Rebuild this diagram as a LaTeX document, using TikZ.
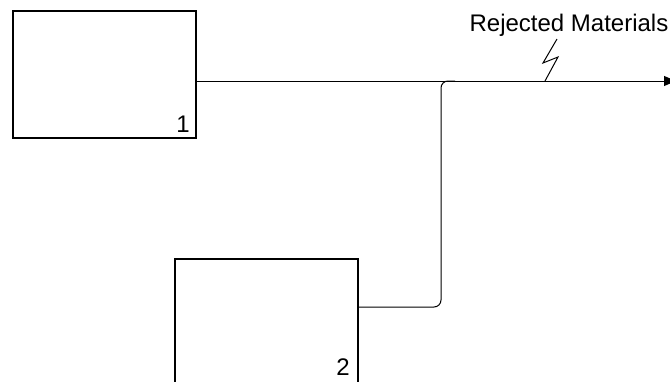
\documentclass[tikz,border=0pt]{standalone}
\usepackage{fontspec}
\setmainfont{Liberation Sans}
\usetikzlibrary{arrows.meta}
\tikzset{
    procbox/.style={draw, line width=2pt, minimum width=183pt, minimum height=127pt, anchor=north west, inner sep=0pt},
    numtag/.style={anchor=south east, inner xsep=7pt, inner ysep=6pt, font=\fontsize{24}{28}\selectfont},
    flow/.style={line width=1pt},
}
\begin{document}
\begin{tikzpicture}[x=1pt,y=-1pt]
    \clip (0,0) rectangle (670,381);
    \node[procbox] (box1) at (12,10) {};
    \node[numtag] (tag1) at (box1.south east) {1};
    \node[procbox, minimum height=130pt] (box2) at (174,258) {};
    \node[numtag] (tag2) at (174+183,378+4) {2};
    % connectors
    \coordinate (out1) at (box1.east |- 0,81);
    \coordinate (out2) at (box2.east |- 0,307);
    \coordinate (merge) at (455,81);
    \coordinate (sink) at (676,81);
    \draw[flow,-{Triangle[length=12pt,width=10pt]}] (out1) -- (sink);
    \draw[flow,rounded corners=7pt] (out2) -- (441,307) -- (441,81) -- (merge);
    % rejected materials tag
    \coordinate (zap) at (545,81);
    \draw[flow] (zap) -- ++(13,-24) -- ++(-15,6) -- ++(14,-24);
    \node[font=\fontsize{24}{28}\selectfont] (rejlbl) at (569,25) {Rejected Materials};
\end{tikzpicture}
\end{document}
